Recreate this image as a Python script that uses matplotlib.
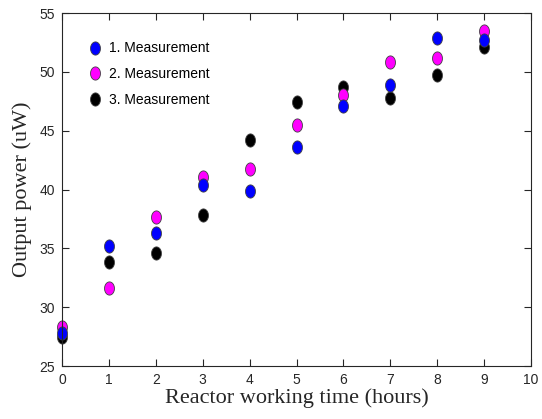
import numpy as np
import matplotlib.pyplot as plt
from matplotlib.path import Path

hours = [0, 1, 2, 3, 4, 5, 6, 7, 8, 9]
meas1 = [27.8, 35.2, 36.3, 40.4, 39.9, 43.6, 47.1, 48.9, 52.9, 52.7]
meas2 = [28.35, 31.6, 37.7, 41.1, 41.7, 45.5, 48.0, 50.8, 51.2, 53.45]
meas3 = [27.45, 33.8, 34.6, 37.8, 44.2, 47.4, 48.7, 47.8, 49.75, 52.15]

labels = ['1. Measurement', '2. Measurement', '3. Measurement']
colors = ['#0000ff', '#ff00ff', '#000000']

# slightly tall ellipse marker, like the original
t = np.linspace(0, 2 * np.pi, 60)
ellipse = Path(np.column_stack([0.75 * np.cos(t), np.sin(t)]), closed=True)

fig = plt.figure(figsize=(5.42, 4.19), dpi=100)
ax = fig.add_axes([62 / 542, 1 - 366 / 419, 469 / 542, 353 / 419])

for y, c, lab in [(meas3, colors[2], labels[2]), (meas2, colors[1], labels[1]), (meas1, colors[0], labels[0])]:
    ax.plot(hours, y, linestyle='none', marker=ellipse, markersize=9.5,
            markerfacecolor=c, markeredgecolor='#404040', markeredgewidth=0.6,
            label=lab, clip_on=False)

ax.set_xlim(0, 10)
ax.set_ylim(25, 55)
ax.set_xticks(range(0, 11))
ax.set_yticks(range(25, 56, 5))

tick_font = 'Liberation Sans'
for lab in ax.get_xticklabels() + ax.get_yticklabels():
    lab.set_fontfamily(tick_font)
ax.tick_params(direction='in', length=5, width=0.8, top=True, right=True,
               labelsize=10, colors='#262626', pad=5)
for s in ax.spines.values():
    s.set_color('#262626')
    s.set_linewidth(0.8)

ax.set_xlabel('Reactor working time (hours)', fontfamily='Liberation Serif',
              fontsize=16, color='#262626', labelpad=1)
ax.set_ylabel('Output power (uW)', fontfamily='Liberation Serif',
              fontsize=16, color='#262626', labelpad=5)

handles, hl = ax.get_legend_handles_labels()
order = [2, 1, 0]
ax.legend([handles[i] for i in order], [hl[i] for i in order], loc='upper left',
          frameon=False, prop={'family': 'Liberation Sans', 'size': 10},
          labelspacing=0.85, handlelength=0.6, handletextpad=0.7,
          bbox_to_anchor=(0.035, 0.955))

fig.savefig('out.png', dpi=100)
